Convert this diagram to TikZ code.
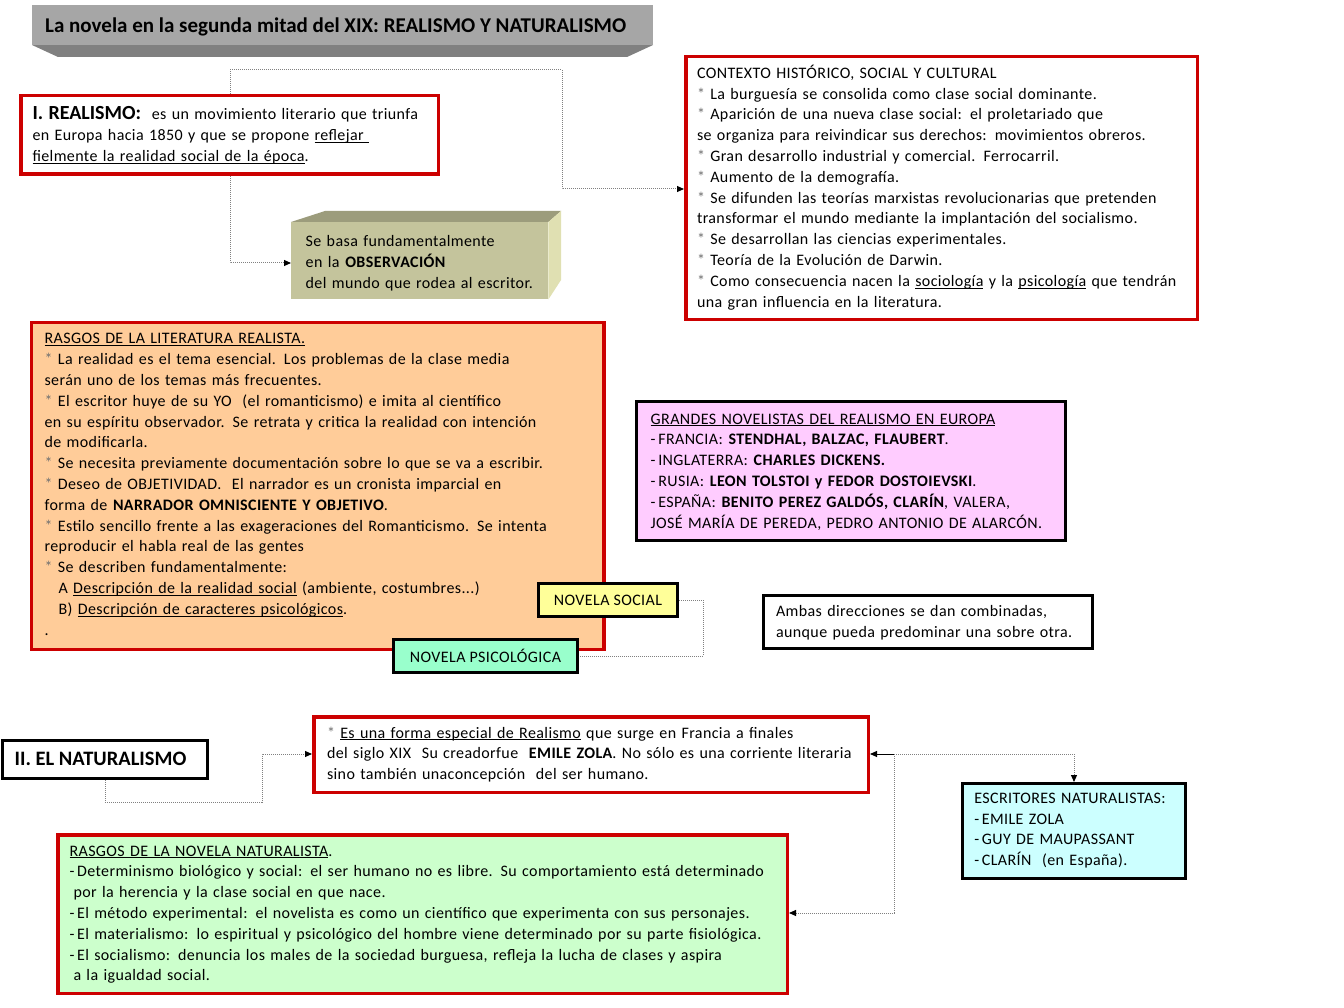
\documentclass[tikz,border=0pt]{standalone}
\usepackage{fontspec}
\setmainfont{Carlito}[LetterSpace=2.5]
\usetikzlibrary{arrows.meta}
\definecolor{redb}{HTML}{CC0000}
\definecolor{peach}{HTML}{FFCC99}
\definecolor{pinkb}{HTML}{FFCCFF}
\definecolor{cyanb}{HTML}{CCFFFF}
\definecolor{greenb}{HTML}{CCFFCC}
\definecolor{yellowb}{HTML}{FFFF99}
\definecolor{mintb}{HTML}{99FFCC}
\definecolor{olivef}{HTML}{C4C49C}
\definecolor{olivet}{HTML}{9C9C7C}
\definecolor{oliver}{HTML}{E0E0B2}
\definecolor{titlegray}{HTML}{A6A6A6}
\definecolor{titledark}{HTML}{808080}
\definecolor{connc}{HTML}{808080}
\definecolor{starc}{HTML}{707070}
\newsavebox\ulbox
\newcommand\uln[1]{\leavevmode\sbox\ulbox{#1}\rlap{\rule[-2.2pt]{\wd\ulbox}{0.9pt}}\usebox\ulbox}
\newcommand\st{{\color{starc}*}}
\newcommand\headfont[1]{\fontsize{#1}{24}\selectfont\addfontfeature{LetterSpace=0}\bfseries}
\tikzset{
  redbox/.style={draw=redb, line width=3.5pt, anchor=north west, inner sep=0pt},
  blkbox/.style={draw=black, line width=3pt, anchor=north west, inner sep=0pt},
  body/.style={anchor=base west, inner sep=0pt, outer sep=0pt, text width=#1, align=left, font=\fontsize{16}{20.8}\selectfont},
  body/.default=600pt,
  conn/.style={draw=connc, line width=1pt, dash pattern=on 1pt off 1pt},
  tip/.style={-{Triangle[length=7pt,width=6pt,color=black]}},
}
\begin{document}
\begin{tikzpicture}[x=1pt,y=-1pt]
\fill[white] (0,0) rectangle (1344,1008);
\useasboundingbox (0,0) rectangle (1344,1008);

% title banner
\fill[titledark] (32,45) -- (653,45) -- (627,57) -- (58,57) -- cycle;
\node[fill=titlegray, anchor=north west, inner sep=0pt, minimum width=621, minimum height=40] (title) at (32,5) {};
\node[anchor=base west, inner sep=0pt, text=black, font=\headfont{21}] (titleT) at (45,32.3) {La novela en la segunda mitad del XIX: REALISMO Y NATURALISMO};

% realismo
\node[redbox, fill=white, minimum width=417.5, minimum height=78.5] (realismo) at (19,94) {};
\node[body=420pt] (realismoT) at (32.5,120) {{\headfont{20}I. REALISMO:}\ \ es un movimiento literario que triunfa\\ en Europa hacia 1850 y que se propone \uln{reflejar\ }\\ \uln{fielmente la realidad social de la época}.};

% beige 3D box
\node[fill=olivef, anchor=north west, inner sep=0pt, minimum width=257, minimum height=77] (beige) at (291,222) {};
\fill[olivet] (beige.north west) -- (325,211) -- (561,211) -- (beige.north east) -- cycle;
\fill[oliver] (beige.north east) -- (561,211) -- (561,280) -- (beige.south east) -- cycle;
\node[body=260pt] (beigeT) at (305.7,246.7) {Se basa fundamentalmente\\ en la \textbf{OBSERVACIÓN}\\ del mundo que rodea al escritor.};

% contexto
\node[redbox, fill=white, minimum width=511.5, minimum height=263] (ctx) at (684,55) {};
\node[body=500pt] (ctxT) at (697,78.3) {CONTEXTO HISTÓRICO, SOCIAL Y CULTURAL\\
\st{} La burguesía se consolida como clase social dominante.\\
\st{} Aparición de una nueva clase social: el proletariado que\\
se organiza para reivindicar sus derechos: movimientos obreros.\\
\st{} Gran desarrollo industrial y comercial. Ferrocarril.\\
\st{} Aumento de la demografía.\\
\st{} Se difunden las teorías marxistas revolucionarias que pretenden\\
transformar el mundo mediante la implantación del socialismo.\\
\st{} Se desarrollan las ciencias experimentales.\\
\st{} Teoría de la Evolución de Darwin.\\
\st{} Como consecuencia nacen la \uln{sociología} y la \uln{psicología} que tendrán\\
una gran influencia en la literatura.};

% connectors from realismo
\coordinate (c1) at (230,70);
\coordinate (c2) at (562,189);
\coordinate (c3) at (230,263);
\draw[conn,tip] (realismo.north -| c1) -- (c1) -| (c2) -- (ctx.west |- c2);
\draw[conn,tip] (realismo.south -| c3) -- (c3) -- (beige.west |- c3);

% rasgos realistas
\node[redbox, fill=peach, minimum width=572.5, minimum height=326.8] (rasgosR) at (29.5,320.7) {};
\node[body=560pt] (rasgosRT) at (44.6,344) {\uln{RASGOS DE LA LITERATURA REALISTA.}\\
\st{} La realidad es el tema esencial. Los problemas de la clase media\\
serán uno de los temas más frecuentes.\\
\st{} El escritor huye de su YO\ \ (el romanticismo) e imita al científico\\
en su espíritu observador. Se retrata y critica la realidad con intención\\
de modificarla.\\
\st{} Se necesita previamente documentación sobre lo que se va a escribir.\\
\st{} Deseo de OBJETIVIDAD.\ \ El narrador es un cronista imparcial en\\
forma de \textbf{NARRADOR OMNISCIENTE Y OBJETIVO}.\\
\st{} Estilo sencillo frente a las exageraciones del Romanticismo. Se intenta\\
reproducir el habla real de las gentes\\
\st{} Se describen fundamentalmente:\\
\hspace*{14pt}A \uln{Descripción de la realidad social} (ambiente, costumbres...)\\
\hspace*{14pt}B) \uln{Descripción de caracteres psicológicos}.\\
.};

% novelas
\node[blkbox, fill=yellowb, minimum width=139, minimum height=33, font=\fontsize{16}{18}\selectfont] (nsoc) at (537,582) {NOVELA SOCIAL};
\node[blkbox, fill=mintb, minimum width=184, minimum height=33.6, font=\fontsize{16}{18}\selectfont] (npsi) at (392,637.7) {NOVELA PSICOLÓGICA};
\coordinate (n1) at (703,600);
\draw[conn] (nsoc.east) -| (n1 |- npsi.east) -- (npsi.east);

% grandes novelistas
\node[blkbox, fill=pinkb, minimum width=428.6, minimum height=138.7] (grandes) at (635,400) {};
\node[body=420pt] (grandesT) at (650.7,424) {\uln{GRANDES NOVELISTAS DEL REALISMO EN EUROPA}\\
-\,FRANCIA: \textbf{STENDHAL, BALZAC, FLAUBERT}.\\
-\,INGLATERRA: \textbf{CHARLES DICKENS.}\\
-\,RUSIA: \textbf{LEON TOLSTOI y FEDOR DOSTOIEVSKI}.\\
-\,ESPAÑA: \textbf{BENITO PEREZ GALDÓS, CLARÍN}, VALERA,\\
JOSÉ MARÍA DE PEREDA, PEDRO ANTONIO DE ALARCÓN.};

% ambas
\node[blkbox, fill=white, minimum width=329, minimum height=53] (ambas) at (762,594) {};
\node[body=320pt] (ambasT) at (776,616.7) {Ambas direcciones se dan combinadas,\\ aunque pueda predominar una sobre otra.};

% naturalismo
\node[blkbox, fill=white, minimum width=205, minimum height=38] (natur) at (1,739) {};
\node[anchor=base west, inner sep=0pt, font=\headfont{20.5}] (naturT) at (14.4,765.7) {II. EL NATURALISMO};

\node[redbox, fill=white, minimum width=554.5, minimum height=75.5] (natDesc) at (312,715) {};
\node[body=550pt] (natDescT) at (327,738) {\st{} \uln{Es una forma especial de Realismo} que surge en Francia a finales\\
del siglo XIX\ \ Su creadorfue\ \ \textbf{EMILE ZOLA}. No sólo es una corriente literaria\\
sino también unaconcepción\ \ del ser humano.};

\node[blkbox, fill=cyanb, minimum width=223, minimum height=95] (escrit) at (961,782) {};
\node[body=220pt] (escritT) at (974.3,803.3) {ESCRITORES NATURALISTAS:\\ -\,EMILE ZOLA\\ -\,GUY DE MAUPASSANT\\ -\,CLARÍN\ \ (en España).};

\node[redbox, fill=greenb, minimum width=729.5, minimum height=158.5] (rasgosN) at (56,833) {};
\node[body=720pt] (rasgosNT) at (69.5,856) {\uln{RASGOS DE LA NOVELA NATURALISTA}.\\
-\,Determinismo biológico y social: el ser humano no es libre. Su comportamiento está determinado\\
\hspace*{4pt}por la herencia y la clase social en que nace.\\
-\,El método experimental: el novelista es como un científico que experimenta con sus personajes.\\
-\,El materialismo: lo espiritual y psicológico del hombre viene determinado por su parte fisiológica.\\
-\,El socialismo: denuncia los males de la sociedad burguesa, refleja la lucha de clases y aspira\\
\hspace*{4pt}a la igualdad social.};

% naturalismo connectors
\coordinate (m1) at (262,802);
\coordinate (m2) at (262,754);
\draw[conn,tip] (natur.south) |- (m1) -- (m2) -- (natDesc.west |- m2);
\coordinate (j) at (894,754);
\coordinate (k) at (894,913);
\draw[tip, black, line width=1pt] (j) -- (natDesc.east |- j);
\draw[conn,tip] (j) -| (escrit.north);
\draw[conn,tip] (j) -- (k) -- (rasgosN.east |- k);
\end{tikzpicture}
\end{document}
